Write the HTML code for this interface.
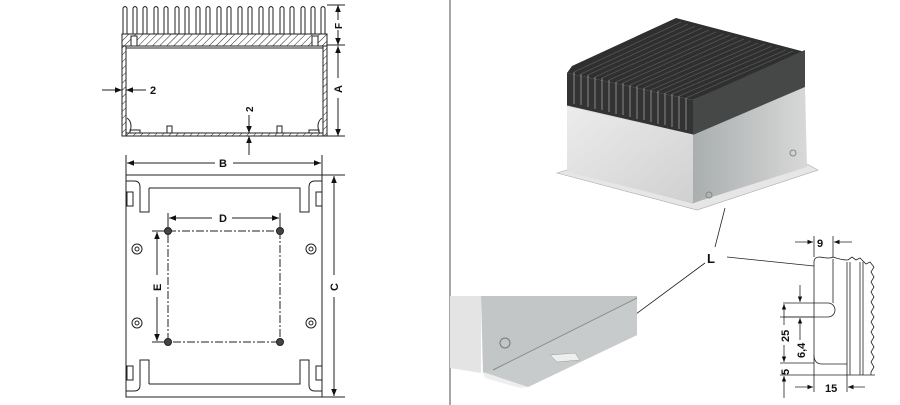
<!DOCTYPE html>
<html><head><meta charset="utf-8"><style>
html,body{margin:0;padding:0;background:#fff;width:900px;height:405px;overflow:hidden}
svg{display:block}
text{font-family:"Liberation Sans",sans-serif;font-weight:bold;fill:#111}
</style></head><body>
<svg width="900" height="405" viewBox="0 0 900 405" xmlns="http://www.w3.org/2000/svg">
<defs>
<pattern id="h" width="5" height="5" patternUnits="userSpaceOnUse" patternTransform="rotate(45)"><line x1="0" y1="0" x2="0" y2="5" stroke="#222" stroke-width="1"/></pattern>
<marker id="a" viewBox="0 0 10 10" refX="10" refY="5" markerWidth="7" markerHeight="7" orient="auto-start-reverse"><path d="M0,1 L10,5 L0,9z" fill="#111"/></marker>
<linearGradient id="sv" x1="0" y1="0" x2="1" y2="1"><stop offset="0" stop-color="#ececec"/><stop offset="1" stop-color="#d0d0d0"/></linearGradient>
<linearGradient id="sv2" x1="0" y1="0" x2="1" y2="0"><stop offset="0" stop-color="#a9aeae"/><stop offset="1" stop-color="#d8d8d8"/></linearGradient>
</defs>
<line x1="450" y1="0" x2="450" y2="405" stroke="#888" stroke-width="1.5"/>
<!-- top section view -->
<g stroke="#222" stroke-width="1" fill="none">
<rect x="122" y="34" width="205" height="12" fill="url(#h)"/>
<path d="M123,34 V8 q2,-3 4,0 V34 M133,34 V8 q2,-3 4,0 V34 M143,34 V8 q2,-3 4,0 V34 M154,34 V8 q2,-3 4,0 V34 M164,34 V8 q2,-3 4,0 V34 M175,34 V8 q2,-3 4,0 V34 M185,34 V8 q2,-3 4,0 V34 M196,34 V8 q2,-3 4,0 V34 M206,34 V8 q2,-3 4,0 V34 M217,34 V8 q2,-3 4,0 V34 M227,34 V8 q2,-3 4,0 V34 M238,34 V8 q2,-3 4,0 V34 M248,34 V8 q2,-3 4,0 V34 M259,34 V8 q2,-3 4,0 V34 M269,34 V8 q2,-3 4,0 V34 M280,34 V8 q2,-3 4,0 V34 M290,34 V8 q2,-3 4,0 V34 M301,34 V8 q2,-3 4,0 V34 M311,34 V8 q2,-3 4,0 V34 M321,34 V8 q2,-3 4,0 V34"/>
<rect x="122" y="46" width="4" height="90" fill="url(#h)"/>
<rect x="323" y="46" width="4" height="90" fill="url(#h)"/>
<rect x="126" y="133" width="197" height="3" fill="url(#h)"/>
<rect x="126" y="48" width="197" height="85"/>
<rect x="131" y="36" width="6" height="10" fill="#fff"/><rect x="312" y="36" width="6" height="10" fill="#fff"/>
<rect x="167" y="126" width="5" height="7"/><rect x="277" y="126" width="5" height="7"/>
<path d="M127,118 q6,4 3,14 M322,118 q-6,4 -3,14"/>
<rect x="130" y="130" width="10" height="3"/><rect x="309" y="130" width="10" height="3"/>
<line x1="327" y1="5" x2="345" y2="5"/><line x1="327" y1="45" x2="345" y2="45"/><line x1="327" y1="136" x2="345" y2="136"/>
<line x1="338" y1="20" x2="338" y2="5" marker-end="url(#a)"/><line x1="338" y1="30" x2="338" y2="45" marker-end="url(#a)"/>
<line x1="338" y1="78" x2="338" y2="46" marker-end="url(#a)"/><line x1="338" y1="98" x2="338" y2="136" marker-end="url(#a)"/>
<line x1="102" y1="90" x2="122" y2="90" marker-end="url(#a)"/><line x1="146" y1="90" x2="126" y2="90" marker-end="url(#a)"/>
<line x1="249" y1="115" x2="249" y2="133" marker-end="url(#a)"/><line x1="249" y1="155" x2="249" y2="136" marker-end="url(#a)"/>
</g>
<text x="150" y="94" font-size="11">2</text>
<text x="0" y="0" font-size="10" transform="translate(253,112) rotate(-90)">2</text>
<text x="0" y="0" font-size="10" transform="translate(342,29) rotate(-90)">F</text>
<text x="0" y="0" font-size="11" transform="translate(342,93) rotate(-90)">A</text>
<!-- bottom view -->
<g stroke="#222" stroke-width="1" fill="none">
<rect x="126" y="175" width="196" height="222"/>
<path d="M149,188 H300 V212 H309 V187 q0,-6 6,-6 H322 M149,188 V212 H140 V187 q0,-6 -6,-6 H126"/>
<path d="M149,384 H300 V360 H309 V385 q0,6 6,6 H322 M149,384 V360 H140 V385 q0,6 -6,6 H126"/>
<rect x="127" y="192" width="6" height="14"/><rect x="316" y="192" width="6" height="14"/>
<rect x="127" y="366" width="6" height="14"/><rect x="316" y="366" width="6" height="14"/>
<line x1="126" y1="155" x2="126" y2="175"/><line x1="322" y1="155" x2="322" y2="175"/>
<line x1="215" y1="163" x2="127" y2="163" marker-end="url(#a)"/><line x1="233" y1="163" x2="321" y2="163" marker-end="url(#a)"/>
<line x1="322" y1="175" x2="345" y2="175"/><line x1="322" y1="397" x2="345" y2="397"/>
<line x1="334" y1="275" x2="334" y2="176" marker-end="url(#a)"/><line x1="334" y1="297" x2="334" y2="396" marker-end="url(#a)"/>
<rect x="168" y="231" width="112" height="111" stroke-dasharray="8,2,2,2"/>
<line x1="168" y1="213" x2="168" y2="231"/><line x1="280" y1="213" x2="280" y2="231"/>
<line x1="212" y1="218" x2="169" y2="218" marker-end="url(#a)"/><line x1="232" y1="218" x2="279" y2="218" marker-end="url(#a)"/>
<line x1="152" y1="231" x2="168" y2="231"/><line x1="152" y1="342" x2="168" y2="342"/>
<line x1="157" y1="275" x2="157" y2="232" marker-end="url(#a)"/><line x1="157" y1="297" x2="157" y2="341" marker-end="url(#a)"/>
<g fill="#fff"><circle cx="137" cy="249" r="5"/><circle cx="311" cy="249" r="5"/><circle cx="137" cy="323" r="5"/><circle cx="311" cy="323" r="5"/>
<circle cx="137" cy="249" r="2"/><circle cx="311" cy="249" r="2"/><circle cx="137" cy="323" r="2"/><circle cx="311" cy="323" r="2"/></g>
<g fill="#444"><circle cx="168" cy="231" r="3.5"/><circle cx="280" cy="231" r="3.5"/><circle cx="168" cy="342" r="3.5"/><circle cx="280" cy="342" r="3.5"/></g>
</g>
<text x="219" y="167" font-size="11">B</text>
<text x="219" y="222" font-size="11">D</text>
<text x="0" y="0" font-size="11" transform="translate(161,291) rotate(-90)">E</text>
<text x="0" y="0" font-size="11" transform="translate(338,291) rotate(-90)">C</text>
<!-- 3D box -->
<polygon points="557,173 697,210 818,170 803,162 693,203 567,170" fill="#e6e6e6" stroke="#aaa" stroke-width="0.6"/>
<polygon points="567,106 693,135 693,203 567,172" fill="url(#sv)"/>
<polygon points="693,135 805,87 807,167 693,203" fill="url(#sv2)"/>
<polygon points="567,73 572,66 676,18 805,52 693,100" fill="#2f2f2f"/>
<polygon points="567,73 693,100 693,135 567,106" fill="#333"/>
<polygon points="693,100 805,50 805,87 693,135" fill="#464848"/>
<g stroke="#8a8a8a" stroke-width="1">
<path d="M574,72 V104 M581,74 V105 M588,75 V107 M595,77 V109 M602,78 V110 M609,80 V112 M616,82 V114 M623,83 V115 M630,85 V117 M637,86 V119 M644,88 V120 M651,90 V122 M658,91 V124 M665,93 V125 M672,94 V127 M679,96 V129 M686,98 V130"/>
</g>
<g stroke="#555" stroke-width="0.8">
<path d="M574,72 L681,22 M581,74 L688,24 M588,75 L695,26 M595,77 L702,28 M602,78 L709,30 M609,80 L716,32 M616,82 L723,34 M623,83 L730,35 M630,85 L737,37 M637,86 L744,39 M644,88 L751,41 M651,90 L758,43 M658,91 L765,44 M665,93 L772,46 M672,94 L779,48 M679,96 L786,50 M686,98 L793,51"/>
</g>
<line x1="567" y1="106" x2="693" y2="135" stroke="#ddd" stroke-width="1"/>
<circle cx="709" cy="195" r="3" fill="none" stroke="#888"/><circle cx="793" cy="153" r="3" fill="none" stroke="#888"/>
<g stroke="#222" stroke-width="0.8" fill="none">
<line x1="725" y1="208" x2="715" y2="247"/>
<line x1="727" y1="257" x2="814" y2="266"/>
<line x1="705" y1="263" x2="617" y2="328"/>
</g>
<text x="707" y="263" font-size="13">L</text>
<!-- detail inset -->
<polygon points="481,296 637,296 637,335 528,387 483,373" fill="#c3c6c6"/>
<polygon points="450,296 481,296 481,373 450,368" fill="#e4e4e4"/>
<polygon points="483,373 493,370 637,298 637,335 528,387 522,387 490,378" fill="#c8cbcb"/>
<line x1="493" y1="370" x2="637" y2="298" stroke="#888" stroke-width="1"/>
<polygon points="483,372 528,387 520,388 485,378" fill="#eee"/>
<polygon points="550,355 575,353 580,360 557,362" fill="#eee" stroke="#999" stroke-width="0.5"/>
<circle cx="505" cy="343" r="5" fill="none" stroke="#777"/>
<!-- dimension detail -->
<g stroke="#222" stroke-width="0.8" fill="none">
<path d="M814,382 V262 q0,-5 6,-5 q10,2 13,0 q8,3 15,3 l4,-3 l4,3 l4,-2 l6,6 l4,-2 l4,5 l-3,5 l3,5 l-3,5 l3,5 l-3,5 l3,5 l-3,5 l3,5 l-3,5 l3,5 l-3,5 l3,5 l-3,5 l3,5 l-3,5 l3,5 l-3,5 l3,5 l-3,5 l3,5 l-3,5 V375"/>
<line x1="833" y1="259" x2="833" y2="303"/>
<line x1="847" y1="262" x2="847" y2="375"/><line x1="850" y1="262" x2="850" y2="375"/>
<line x1="860" y1="262" x2="860" y2="375"/><line x1="863" y1="262" x2="863" y2="375"/>
<path d="M783,303 H828 a7,7 0 0 1 0,14 H783"/>
<path d="M814,355 q0,9 8,9 H847"/>
<line x1="780" y1="375" x2="875" y2="375"/><line x1="780" y1="363" x2="814" y2="363"/>
<line x1="780" y1="317" x2="814" y2="317"/>
<line x1="814" y1="236" x2="814" y2="257"/><line x1="833" y1="236" x2="833" y2="257"/>
<line x1="795" y1="242" x2="813" y2="242" marker-end="url(#a)"/><line x1="852" y1="242" x2="834" y2="242" marker-end="url(#a)"/>
<line x1="814" y1="382" x2="814" y2="392"/><line x1="847" y1="375" x2="847" y2="392"/>
<line x1="795" y1="387" x2="813" y2="387" marker-end="url(#a)"/><line x1="865" y1="387" x2="848" y2="387" marker-end="url(#a)"/>
<line x1="800" y1="285" x2="800" y2="302" marker-end="url(#a)"/>
<line x1="800" y1="340" x2="800" y2="318" marker-end="url(#a)"/>
<line x1="784" y1="325" x2="784" y2="304" marker-end="url(#a)"/>
<line x1="784" y1="345" x2="784" y2="362" marker-end="url(#a)"/>
<line x1="784" y1="398" x2="784" y2="376" marker-end="url(#a)"/>
</g>
<text x="817" y="247" font-size="11">9</text>
<text x="825" y="392" font-size="11">15</text>
<text x="0" y="0" font-size="11" transform="translate(789,342) rotate(-90)">25</text>
<text x="0" y="0" font-size="11" transform="translate(805,358) rotate(-90)">6,4</text>
<text x="0" y="0" font-size="11" transform="translate(789,375) rotate(-90)">5</text>
</svg>
</body></html>
